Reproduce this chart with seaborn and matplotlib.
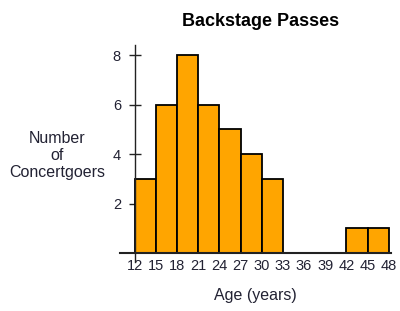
import matplotlib
matplotlib.use("Agg")
import matplotlib.pyplot as plt
import seaborn as sns
import pandas as pd

bin_starts = [12, 15, 18, 21, 24, 27, 30, 33, 36, 39, 42, 45]
counts = [3, 6, 8, 6, 5, 4, 3, 0, 0, 0, 1, 1]
bin_edges = [12, 15, 18, 21, 24, 27, 30, 33, 36, 39, 42, 45, 48]
y_ticks = [2, 4, 6, 8]

sns.set_style("white")
plt.rcParams['font.family'] = ['Liberation Sans', 'DejaVu Sans']

df = pd.DataFrame({"age": [b + 1.5 for b in bin_starts], "count": counts})

fig = plt.figure(figsize=(4.0, 3.11), dpi=100)
ax = fig.add_axes([0.30, 0.186, 0.677, 0.669])
sns.histplot(data=df, x="age", weights="count", bins=bin_edges, ax=ax,
             color="#FFA500", alpha=1, edgecolor="black", linewidth=1.3)

ax.set_xlim(9.9, 48.3)
ax.set_ylim(0, 8.4)
for s in ["top", "right"]:
    ax.spines[s].set_visible(False)
ax.spines["left"].set_position(("data", 12))
ax.spines["left"].set_linewidth(1.0)
ax.spines["left"].set_bounds(-0.35, 8.4)
ax.spines["left"].set_clip_on(False)
ax.spines["bottom"].set_linewidth(1.5)
ax.spines["left"].set_color("#222222")
ax.spines["bottom"].set_color("#222222")

ax.set_xticks(bin_edges)
ax.set_xticklabels([str(e) for e in bin_edges])
ax.tick_params(axis="x", length=0, pad=4, labelsize=10.5, labelcolor="#222233")
ax.set_yticks(y_ticks)
ax.tick_params(axis="y", direction="inout", length=8, width=1, pad=6,
               labelsize=10.5, labelcolor="#222233", color="#222222")
ax.yaxis.set_ticks_position("left")

ax.set_xlabel("Age (years)", fontsize=11.5, color="#222233", labelpad=11)
ax.set_ylabel("")
fig.text(0.143, 0.50, "Number\nof\nConcertgoers", ha="center", va="center",
         fontsize=11.5, color="#222233", linespacing=1.15)
fig.text(0.652, 0.932, "Backstage Passes", ha="center", va="center",
         fontsize=13, fontweight="bold", color="black")

fig.savefig("out.png", dpi=100)
